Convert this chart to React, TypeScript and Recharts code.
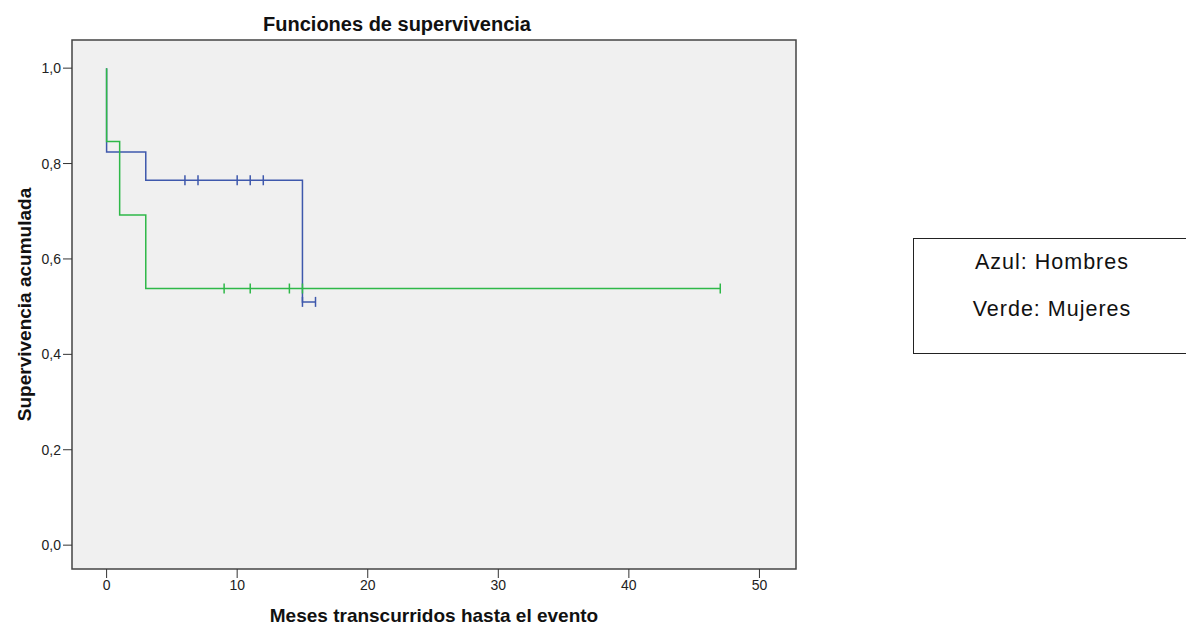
import React from 'react';
import { ComposedChart, Line, Scatter, XAxis, YAxis, ReferenceArea } from 'recharts';

// Kaplan-Meier step points (time in months, cumulative survival)
const hombresTimes = [0, 0, 3, 15, 16];
const hombresSurv = [1.0, 0.824, 0.765, 0.51, 0.51];
const mujeresTimes = [0, 0, 1, 3, 47];
const mujeresSurv = [1.0, 0.846, 0.692, 0.538, 0.538];

// Censored observations
const hombresCensorTimes = [6, 7, 10, 11, 12, 15, 16];
const hombresCensorSurv = [0.765, 0.765, 0.765, 0.765, 0.765, 0.51, 0.51];
const mujeresCensorTimes = [9, 11, 14, 15, 47];
const mujeresCensorSurv = [0.538, 0.538, 0.538, 0.538, 0.538];

const xTicks = [0, 10, 20, 30, 40, 50];
const yTicks = [0, 0.2, 0.4, 0.6, 0.8, 1.0];

const titleText = 'Funciones de supervivencia';
const xLabel = 'Meses transcurridos hasta el evento';
const yLabel = 'Supervivencia acumulada';
const legendLines = ['Azul: Hombres', 'Verde: Mujeres'];

const BLUE = '#3E58AC';
const GREEN = '#2EB848';
const FONT = '"Liberation Sans", Arial, sans-serif';

const zip = (ts: number[], ss: number[]) => ts.map((t, i) => ({ t, s: ss[i] }));
const hombres = zip(hombresTimes, hombresSurv);
const mujeres = zip(mujeresTimes, mujeresSurv);
const hombresCens = zip(hombresCensorTimes, hombresCensorSurv);
const mujeresCens = zip(mujeresCensorTimes, mujeresCensorSurv);

const X_DOMAIN: [number, number] = [-2.65, 52.8];
const Y_DOMAIN: [number, number] = [-0.05, 1.059];

const censorShape = (color: string) => (props: any) => {
  const { cx, cy } = props;
  return (
    <line x1={cx} x2={cx} y1={cy - 5} y2={cy + 5} stroke={color} strokeWidth={1.5} />
  );
};

export default function App() {
  return (
    <div style={{ position: 'absolute', left: 0, top: 0, width: 1186, height: 627, background: '#fff', fontFamily: FONT, overflow: 'hidden' }}>
      <div style={{ position: 'absolute', left: 0, width: 794, top: 13, textAlign: 'center', fontWeight: 'bold', fontSize: 20, lineHeight: 'normal', color: '#111', whiteSpace: 'nowrap' }}>
        {titleText}
      </div>
      <ComposedChart
        width={1186}
        height={627}
        margin={{ top: 40, right: 390, bottom: 28, left: 12 }}
      >
        <XAxis
          type="number"
          dataKey="t"
          domain={X_DOMAIN}
          ticks={xTicks}
          allowDataOverflow
          axisLine={false}
          tickLine={{ stroke: '#333' }}
          tickSize={9}
          height={30}
          tick={{ fontSize: 14, fill: '#222', fontFamily: FONT }}
          label={{ value: xLabel, position: 'insideBottom', offset: -23, style: { fontWeight: 'bold', fontSize: 19, fill: '#111', fontFamily: FONT } }}
        />
        <YAxis
          type="number"
          dataKey="s"
          domain={Y_DOMAIN}
          ticks={yTicks}
          allowDataOverflow
          axisLine={false}
          tickLine={{ stroke: '#333' }}
          tickSize={9}
          width={60}
          tick={{ fontSize: 14, fill: '#222', fontFamily: FONT }}
          tickFormatter={(v: number) => v.toFixed(1).replace('.', ',')}
          label={{ value: yLabel, angle: -90, position: 'insideLeft', offset: 12, style: { textAnchor: 'middle', fontWeight: 'bold', fontSize: 19, fill: '#111', fontFamily: FONT } }}
        />
        <ReferenceArea x1={X_DOMAIN[0]} x2={X_DOMAIN[1]} y1={Y_DOMAIN[0]} y2={Y_DOMAIN[1]} fill="#F0F0F0" fillOpacity={1} stroke="#444" strokeWidth={1.5} ifOverflow="visible" />
        <Line data={hombres} dataKey="s" type="stepAfter" stroke={BLUE} strokeWidth={1.5} dot={false} isAnimationActive={false} />
        <Line data={mujeres} dataKey="s" type="stepAfter" stroke={GREEN} strokeWidth={1.5} dot={false} isAnimationActive={false} />
        <Scatter data={hombresCens} dataKey="s" shape={censorShape(BLUE)} isAnimationActive={false} />
        <Scatter data={mujeresCens} dataKey="s" shape={censorShape(GREEN)} isAnimationActive={false} />
      </ComposedChart>
      <div style={{ position: 'absolute', left: 913, top: 238, width: 290, height: 116, border: '1.5px solid #222', boxSizing: 'border-box', background: '#fff', fontSize: 21.5, letterSpacing: 1, lineHeight: 'normal', color: '#111', textAlign: 'center' }}>
        <div style={{ position: 'absolute', left: 0, width: 276, top: 11, whiteSpace: 'nowrap' }}>{legendLines[0]}</div>
        <div style={{ position: 'absolute', left: 0, width: 276, top: 58, whiteSpace: 'nowrap' }}>{legendLines[1]}</div>
      </div>
    </div>
  );
}
